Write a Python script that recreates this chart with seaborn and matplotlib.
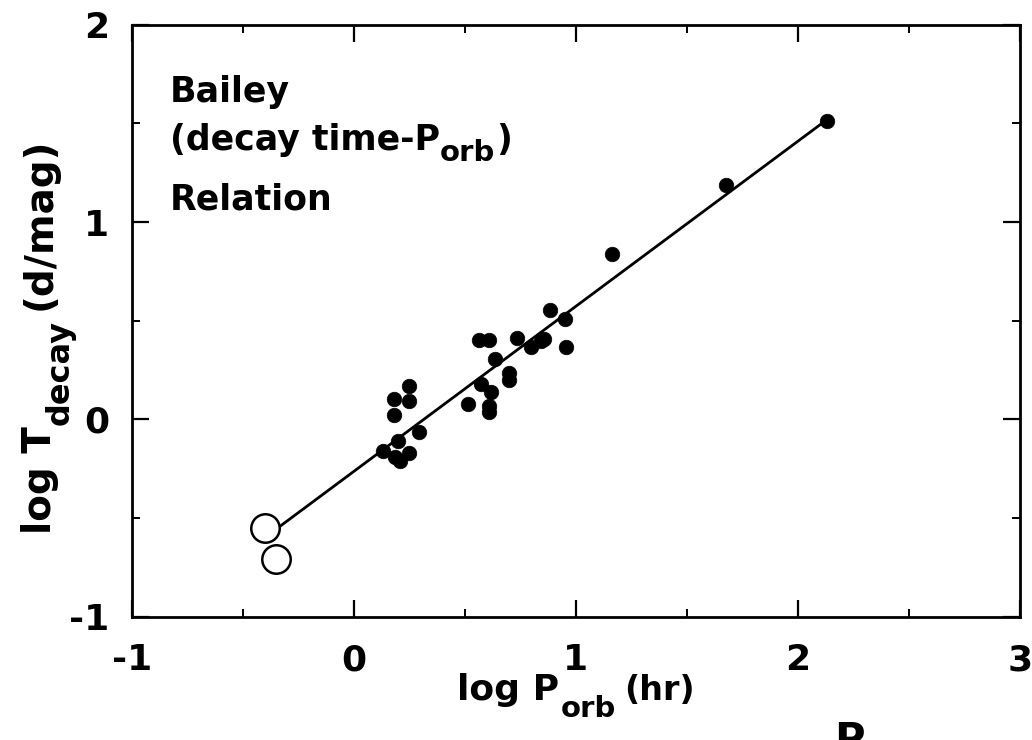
import numpy as np
import pandas as pd
import matplotlib
matplotlib.use("Agg")
import matplotlib.pyplot as plt
import seaborn as sns

# Filled points: log P_orb (hr), log T_decay (d/mag)
filled_x = [2.13, 1.675, 1.164, 0.885, 0.952, 0.956, 0.857, 0.797, 0.842, 0.737,
            0.563, 0.609, 0.636, 0.699, 0.699, 0.571, 0.616, 0.515, 0.609, 0.609,
            0.250, 0.250, 0.179, 0.179, 0.292, 0.133, 0.201, 0.186, 0.247, 0.206]
filled_y = [1.513, 1.186, 0.840, 0.552, 0.510, 0.369, 0.408, 0.369, 0.396, 0.413,
            0.400, 0.400, 0.306, 0.235, 0.200, 0.180, 0.137, 0.078, 0.070, 0.036,
            0.171, 0.095, 0.104, 0.024, -0.066, -0.159, -0.108, -0.193, -0.168, -0.210]

# Open circles
open_x = [-0.399, -0.352]
open_y = [-0.553, -0.709]

# Fitted relation (end points)
line_x = [-0.33, 2.12]
line_y = [-0.54, 1.51]

x_ticks = [-1, 0, 1, 2, 3]
y_ticks = [-1, 0, 1, 2]

sns.set_theme(style="ticks")
plt.rcParams['font.family'] = ['DejaVu Sans']
plt.rcParams['font.weight'] = 'bold'
plt.rcParams['text.color'] = 'black'
plt.rcParams['xtick.color'] = 'black'
plt.rcParams['ytick.color'] = 'black'
plt.rcParams['axes.labelcolor'] = 'black'

W, H = 1032, 740
fig = plt.figure(figsize=(W / 100, H / 100), dpi=100)
ax = fig.add_axes([131.7 / W, 1 - 616.7 / H, (1020 - 131.7) / W, (616.7 - 24.7) / H])

df_f = pd.DataFrame({"x": filled_x, "y": filled_y})
df_o = pd.DataFrame({"x": open_x, "y": open_y})
df_l = pd.DataFrame({"x": line_x, "y": line_y})

sns.lineplot(data=df_l, x="x", y="y", ax=ax, color="black", linewidth=2.0,
             sort=False, estimator=None)
sns.scatterplot(data=df_f, x="x", y="y", ax=ax, color="black", s=110,
                edgecolor="black", linewidth=0.5, zorder=3)
sns.scatterplot(data=df_o, x="x", y="y", ax=ax, facecolor="white", s=420,
                edgecolor="black", linewidth=1.8, zorder=4)

ax.set_xlim(-1, 3)
ax.set_ylim(-1, 2)
ax.set_xticks(x_ticks)
ax.set_yticks(y_ticks)
ax.set_xticks([-0.5, 0.5, 1.5, 2.5], minor=True)
ax.set_yticks([-0.5, 0.5, 1.5], minor=True)
ax.set_xticklabels([str(t) for t in x_ticks])
ax.set_yticklabels([str(t) for t in y_ticks])

ax.tick_params(which="major", direction="in", length=12, width=1.6,
               top=True, right=True, labelsize=26, colors="black")
ax.tick_params(axis="x", which="major", pad=19)
ax.tick_params(axis="y", which="major", pad=16)
ax.tick_params(which="minor", direction="in", length=6, width=1.4,
               top=True, right=True, colors="black")
for lab in ax.get_xticklabels() + ax.get_yticklabels():
    lab.set_fontweight("bold")
    lab.set_color("black")
for sp in ax.spines.values():
    sp.set_linewidth(2.0)
    sp.set_color("black")
ax.set_xlabel("")
ax.set_ylabel("")

renderer = fig.canvas.get_renderer()


def compose(parts, x0, y0, rotation=0, center=None):
    """parts: list of (text, size, drop_px, gap_before_px). Pixel coords from bottom-left."""
    texts = []
    pos = 0.0
    for (s, size, drop, gap) in parts:
        pos += gap
        if rotation == 0:
            px, py = x0 + pos, y0 - drop
        else:
            px, py = x0 + drop, y0 + pos
        t = fig.text(px / W, py / H, s, fontsize=size, fontweight="bold",
                     color="black", ha="left", va="baseline", rotation=rotation,
                     rotation_mode="anchor")
        bb = t.get_window_extent(renderer)
        length = bb.width if rotation == 0 else bb.height
        texts.append((t, px, py))
        pos += length
    if center is not None:
        shift = center - (pos / 2.0)
        for (t, px, py) in texts:
            if rotation == 0:
                t.set_position(((px - x0 + shift) / W, py / H))
            else:
                t.set_position((px / W, (py - y0 + shift) / H))
    return texts


# x axis label: log P_orb (hr)
compose([("log P", 26, 0, 0), ("orb", 21, 17, 1), ("(hr)", 24, 0, 8)],
        0, H - 700, rotation=0, center=(131.7 + 1020) / 2)

# y axis label: log T_decay (d/mag)
compose([("log T", 28, 0, 0), ("decay", 23, 18, 1), ("(d/mag)", 28, 0, 10)],
        51, 0, rotation=90, center=H - 336)

# annotation block
compose([("Bailey", 25, 0, 0)], 170, H - 101.7)
compose([("(decay time-P", 25, 0, 0), ("orb", 21, 11, 0), (")", 25, 0, 1)], 170, H - 150)
compose([("Relation", 25, 0, 0)], 170, H - 210)

# cropped letter from the page below
fig.text(0.808, -0.018, "P", fontsize=30, fontweight="bold", color="black",
         ha="left", va="baseline")

fig.savefig("out.png", dpi=100)
